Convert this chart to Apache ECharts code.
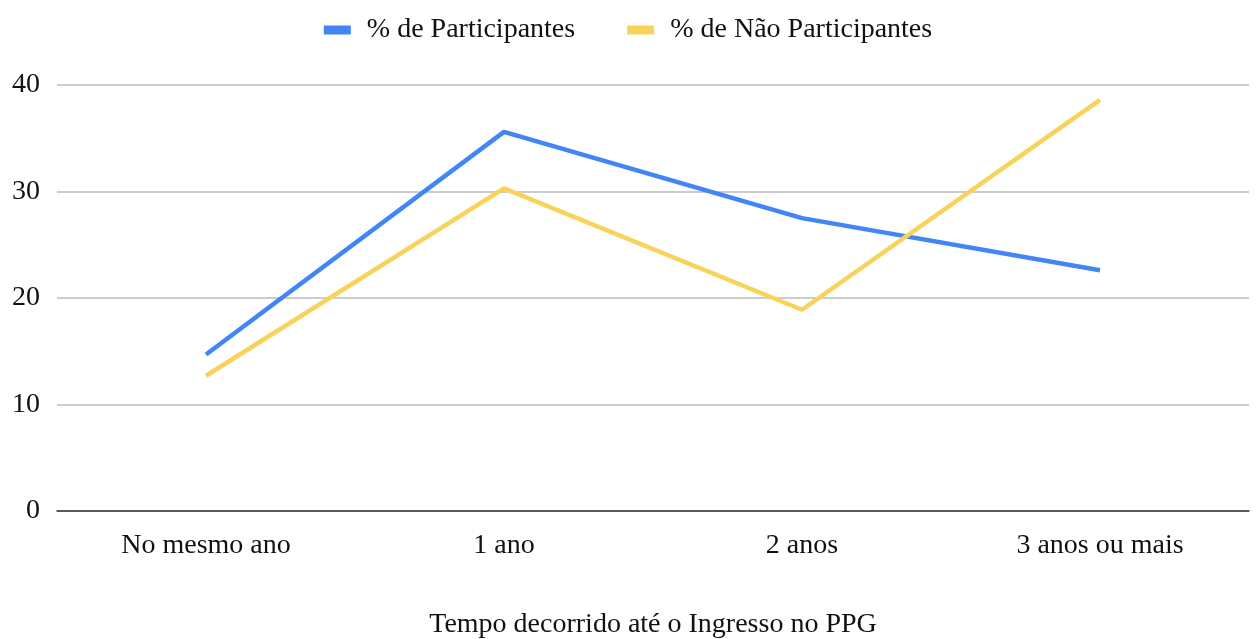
<!DOCTYPE html>
<html>
<head>
<meta charset="utf-8">
<script src="https://cdn.jsdelivr.net/npm/echarts@6/dist/echarts.min.js"></script>
<style>
	html, body { margin: 0; padding: 0; background: #fff; }
	#chart { width: 1256px; height: 639px; }
</style>
</head>
<body>
<div id="chart"></div>
<script>
// categorias do eixo x
const categories = ['No mesmo ano', '1 ano', '2 anos', '3 anos ou mais'];
// valores (%)
const participantes = [14.7, 35.6, 27.5, 22.6];
const naoParticipantes = [12.7, 30.3, 18.9, 38.6];
const yTicks = [0, 10, 20, 30, 40];

const fontFamily = '"Liberation Serif", "Times New Roman", serif';
const fontSize = 28;

const chart = echarts.init(document.getElementById('chart'));
const option = {
	animation: false,
	textStyle: { fontFamily: fontFamily },
	legend: {
		top: 11,
		left: 'center',
		itemWidth: 27,
		itemHeight: 9,
		itemGap: 52,
		icon: 'rect',
		textStyle: { fontFamily: fontFamily, fontSize: fontSize, color: '#111', padding: [0, 0, 0, 11] },
		data: ['% de Participantes', '% de Não Participantes']
	},
	grid: {
		left: 57,
		right: 7,
		top: 85,
		bottom: 128,
		containLabel: false,
		outerBoundsMode: 'none'
	},
	xAxis: {
		type: 'category',
		data: categories,
		boundaryGap: true,
		name: 'Tempo decorrido até o Ingresso no PPG',
		nameLocation: 'middle',
		nameGap: 100,
		nameTextStyle: { fontFamily: fontFamily, fontSize: fontSize, color: '#111' },
		axisLine: { lineStyle: { color: '#333', width: 1.5 } },
		axisTick: { show: false },
		axisLabel: { fontFamily: fontFamily, fontSize: fontSize, color: '#111', margin: 21 }
	},
	yAxis: {
		type: 'value',
		min: yTicks[0],
		max: yTicks[yTicks.length - 1],
		interval: 10,
		axisLine: { show: false },
		axisTick: { show: false },
		axisLabel: { fontFamily: fontFamily, fontSize: fontSize, color: '#111', margin: 17 },
		splitLine: { lineStyle: { color: '#cccccc', width: 2 } }
	},
	series: [
		{
			name: '% de Participantes',
			type: 'line',
			data: participantes,
			symbol: 'none',
			color: '#4285f4',
			lineStyle: { width: 4.5, color: '#4285f4' }
		},
		{
			name: '% de Não Participantes',
			type: 'line',
			data: naoParticipantes,
			symbol: 'none',
			color: '#f7d35c',
			lineStyle: { width: 4.5, color: '#f7d35c' }
		}
	]
};
chart.setOption(option);
</script>
</body>
</html>
